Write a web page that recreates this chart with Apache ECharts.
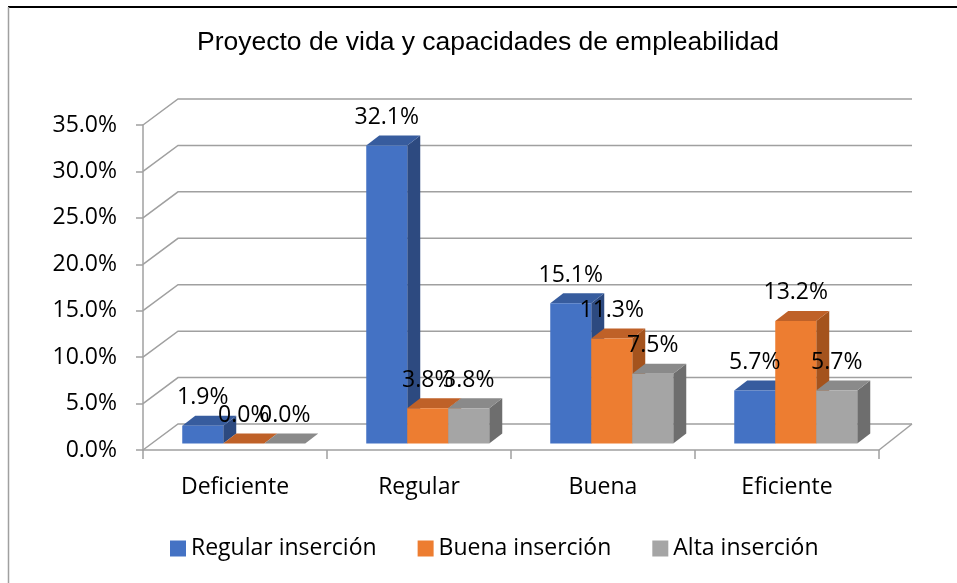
<!DOCTYPE html>
<html>
<head>
<meta charset="utf-8">
<script src="https://cdn.jsdelivr.net/npm/echarts@6/dist/echarts.min.js"></script>
<style>html,body{margin:0;padding:0;background:#fff}#c{width:957px;height:583px}</style>
</head>
<body>
<div id="c"></div>
<script>
const title = 'Proyecto de vida y capacidades de empleabilidad';
const categories = ['Deficiente', 'Regular', 'Buena', 'Eficiente'];
const seriesNames = ['Regular inserción', 'Buena inserción', 'Alta inserción'];
const regular = [1.9, 32.1, 15.1, 5.7];
const buena = [0.0, 3.8, 11.3, 13.2];
const alta = [0.0, 3.8, 7.5, 5.7];
const yTicks = [0, 5, 10, 15, 20, 25, 30, 35];

const FONT = 'Open Sans';
const FS = 23;
const faces = [
  {front: '#4472C4', top: '#375C9E', side: '#2D4A80'},
  {front: '#ED7D31', top: '#BF6128', side: '#A4531D'},
  {front: '#A5A5A5', top: '#8A8A8A', side: '#6E6E6E'}
];
// 3D projection constants (pixels)
const WALL_DX = 35, WALL_DY = -26;
const BAR_DX = 8.75, BAR_DY = -6.5;
const SIDE_DX = 13, SIDE_DY = -10;
const GROUP_RATIO = 0.6685;

const valueSets = [regular, buena, alta];

function barGeom(api, sIdx, i, v) {
  const base = api.coord([i, 0]);
  const top = api.coord([i, v]);
  const cw = api.size([1, 0])[0];
  const bw = cw * GROUP_RATIO / 3;
  const x0 = base[0] + BAR_DX + (sIdx - 1) * bw - bw / 2;
  return {x0: x0, x1: x0 + bw, yb: base[1] + BAR_DY, yt: top[1] + BAR_DY, bw: bw};
}

function makeBarSeries(sIdx) {
  const f = faces[sIdx];
  return {
    name: seriesNames[sIdx],
    type: 'custom',
    z: 2,
    clip: false,
    itemStyle: {color: f.front},
    encode: {x: 0, y: 1},
    data: categories.map((c, i) => [i, valueSets[sIdx][i]]),
    renderItem: function (params, api) {
      const g = barGeom(api, sIdx, api.value(0), api.value(1));
      const {x0, x1, yb, yt} = g;
      return {
        type: 'group',
        children: [
          {type: 'polygon', shape: {points: [[x1, yt], [x1 + SIDE_DX, yt + SIDE_DY], [x1 + SIDE_DX, yb + SIDE_DY], [x1, yb]]}, style: {fill: f.side}},
          {type: 'polygon', shape: {points: [[x0, yt], [x1, yt], [x1 + SIDE_DX, yt + SIDE_DY], [x0 + SIDE_DX, yt + SIDE_DY]]}, style: {fill: f.top}},
          {type: 'rect', shape: {x: x0, y: yt, width: x1 - x0, height: yb - yt}, style: {fill: f.front}}
        ]
      };
    }
  };
}

const labelData = [];
valueSets.forEach((vals, s) => vals.forEach((v, i) => labelData.push([i, v, s])));

const option = {
  backgroundColor: '#fff',
  animation: false,
  title: {
    text: title, left: 197, top: 29, padding: 0,
    textStyle: {fontFamily: 'Liberation Sans', fontSize: 26.5, fontWeight: 'normal', color: '#000'}
  },
  legend: {
    data: seriesNames, left: 170, top: 537, padding: 0, icon: 'rect', itemWidth: 16, itemHeight: 16, itemGap: 41,
    textStyle: {fontFamily: FONT, fontSize: FS, color: '#000'}
  },
  grid: {left: 143, right: 78, top: 125, bottom: 133},
  xAxis: {
    type: 'category', data: categories,
    axisLine: {lineStyle: {color: '#a0a0a0', width: 1.5}},
    axisTick: {show: true, length: 9, lineStyle: {color: '#a0a0a0', width: 1.5}},
    axisLabel: {fontFamily: FONT, fontSize: FS, color: '#000', margin: 26}
  },
  yAxis: {
    type: 'value', min: 0, max: 35, interval: 5,
    axisLine: {show: true, lineStyle: {color: '#a0a0a0', width: 1.5}},
    axisTick: {show: true, length: 7, lineStyle: {color: '#a0a0a0', width: 1.5}},
    splitLine: {show: false},
    axisLabel: {fontFamily: FONT, fontSize: FS, color: '#000', margin: 26, formatter: v => v.toFixed(1) + '%'}
  },
  series: [
    {
      type: 'custom', name: 'grid3d', z: 1, clip: false, silent: true,
      encode: {y: 0},
      data: yTicks.map(v => [v]),
      renderItem: function (params, api) {
        const cs = params.coordSys;
        const v = api.value(0);
        const y = api.coord([0, v])[1];
        const xf = cs.x, xr = cs.x + cs.width;
        const ls = {stroke: '#a0a0a0', lineWidth: 1.5};
        const children = [
          {type: 'polyline', shape: {points: [[xf, y], [xf + WALL_DX, y + WALL_DY], [xr + WALL_DX - 2, y + WALL_DY]]}, style: Object.assign({fill: null}, ls)}
        ];
        if (v === 0) {
          children.push({type: 'line', shape: {x1: xr, y1: y, x2: xr + WALL_DX - 2, y2: y + WALL_DY}, style: ls});
        }
        return {type: 'group', children: children};
      }
    },
    makeBarSeries(0),
    makeBarSeries(1),
    makeBarSeries(2),
    {
      type: 'custom', name: 'labels', z: 5, clip: false, silent: true,
      encode: {x: 0, y: 1},
      data: labelData,
      renderItem: function (params, api) {
        const s = api.value(2);
        const v = api.value(1);
        const g = barGeom(api, s, api.value(0), v);
        return {
          type: 'text',
          style: {
            text: v.toFixed(1) + '%', x: (g.x0 + g.x1) / 2, y: g.yt - 28,
            textAlign: 'center', textVerticalAlign: 'middle',
            font: FS + 'px "' + FONT + '"', fill: '#000'
          }
        };
      }
    }
  ],
  graphic: [
    {type: 'line', shape: {x1: 8, y1: 7, x2: 957, y2: 7}, style: {stroke: '#000', lineWidth: 2}},
    {type: 'line', shape: {x1: 8.5, y1: 7, x2: 8.5, y2: 583}, style: {stroke: '#a0a0a0', lineWidth: 1.5}}
  ]
};

const chart = echarts.init(document.getElementById('c'), null, {renderer: 'canvas'});
chart.setOption(option);
</script>
</body>
</html>
